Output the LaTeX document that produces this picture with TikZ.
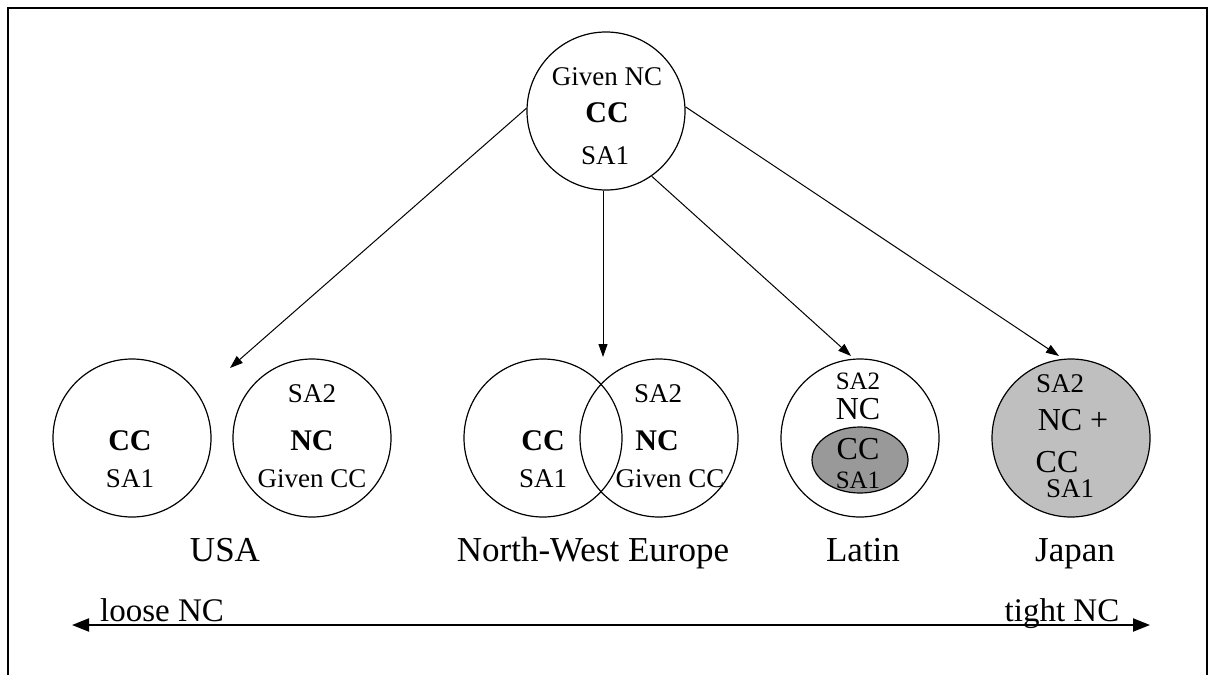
\documentclass[tikz,border=0pt]{standalone}
\usepackage{fontspec}
\setmainfont{Liberation Serif}
\usetikzlibrary{arrows.meta,shapes.geometric}

\tikzset{
  ring/.style={circle, draw, line width=1.2pt, minimum size=158pt, inner sep=0pt},
  small/.style={font=\fontsize{27}{30}\selectfont, inner sep=0pt, anchor=base},
  tiny/.style={font=\fontsize{25}{28}\selectfont, inner sep=0pt, anchor=base},
  big/.style={font=\fontsize{30}{34}\selectfont\bfseries, inner sep=0pt, anchor=base},
  plain/.style={font=\fontsize{32}{36}\selectfont, inner sep=0pt, anchor=base},
  region/.style={font=\fontsize{35}{40}\selectfont, inner sep=0pt, anchor=base},
  scaletext/.style={font=\fontsize{33}{38}\selectfont, inner sep=0pt, anchor=base},
  link/.style={line width=1pt, -{Triangle[length=13pt,width=9pt]}}
}

\begin{document}
\begin{tikzpicture}[x=1pt, y=-1pt]
  \useasboundingbox (0,0) rectangle (1209,675);
  % frame, open at the bottom
  \draw[line width=2pt] (8,675) -- (8,8) -- (1207,8) -- (1207,675);

  % top circle
  \node[ring] (n0) at (606,111) {};
  \node[small] (n0a) at (607,85)  {Given NC};
  \node[big]   (n0b) at (607,122) {CC};
  \node[small] (n0c) at (605,164) {SA1};

  % USA
  \node[ring] (n1) at (132,438) {};
  \node[big]   (n1a) at (130,450) {CC};
  \node[small] (n1b) at (130,487) {SA1};
  \node[ring] (n2) at (312,438) {};
  \node[small] (n2a) at (312,402) {SA2};
  \node[big]   (n2b) at (312,450) {NC};
  \node[small] (n2c) at (312,487) {Given CC};

  % North-West Europe
  \node[ring] (n3) at (543,438) {};
  \node[ring] (n4) at (659,438) {};
  \node[big]   (n3a) at (543,450) {CC};
  \node[small] (n3b) at (543,487) {SA1};
  \node[small] (n4a) at (658,402) {SA2};
  \node[big]   (n4b) at (657,450) {NC};
  \node[small] (n4c) at (670,487) {Given CC};

  % Latin
  \node[ring] (n5) at (860,438) {};
  \node[ellipse, draw, line width=1.2pt, fill=black!40, minimum width=96pt, minimum height=66pt] (n6) at (860,460) {};
  \node[tiny]  (n5a) at (858,389) {SA2};
  \node[plain] (n5b) at (858,419) {NC};
  \node[plain] (n6a) at (858,459) {CC};
  \node[tiny]  (n6b) at (858,488) {SA1};

  % Japan
  \node[ring, fill=black!25] (n7) at (1071,438) {};
  \node[small] (n7a) at (1060,392) {SA2};
  \node[plain] (n7b) at (1073,430) {NC +};
  \node[plain] (n7c) at (1057,472) {CC};
  \node[small] (n7d) at (1070,497) {SA1};

  % region names
  \node[region] (l1) at (225,561) {USA};
  \node[region] (l2) at (593,561) {North-West Europe};
  \node[region] (l3) at (863,561) {Latin};
  \node[region] (l4) at (1075,561) {Japan};

  % arrows down
  \coordinate (t1) at (230,368);
  \coordinate (t2) at (603,357);
  \coordinate (t3) at (851,356);
  \coordinate (t4) at (1059,356);
  \draw[link] (n0.178) -- (t1);
  \draw[link] (n0.south -| t2) -- (t2);
  \draw[link] (n0.-55) -- (t3);
  \draw[link] (n0.3) -- (t4);

  % scale
  \coordinate (s1) at (72,625);
  \coordinate (s2) at (1150,625);
  \draw[line width=2pt, {Triangle[length=17pt,width=13pt]}-{Triangle[length=17pt,width=13pt]}] (s1) -- (s2);
  \node[scaletext] (s1a) at (162,621) {loose NC};
  \node[scaletext] (s2a) at (1062,621) {tight NC};
\end{tikzpicture}
\end{document}
